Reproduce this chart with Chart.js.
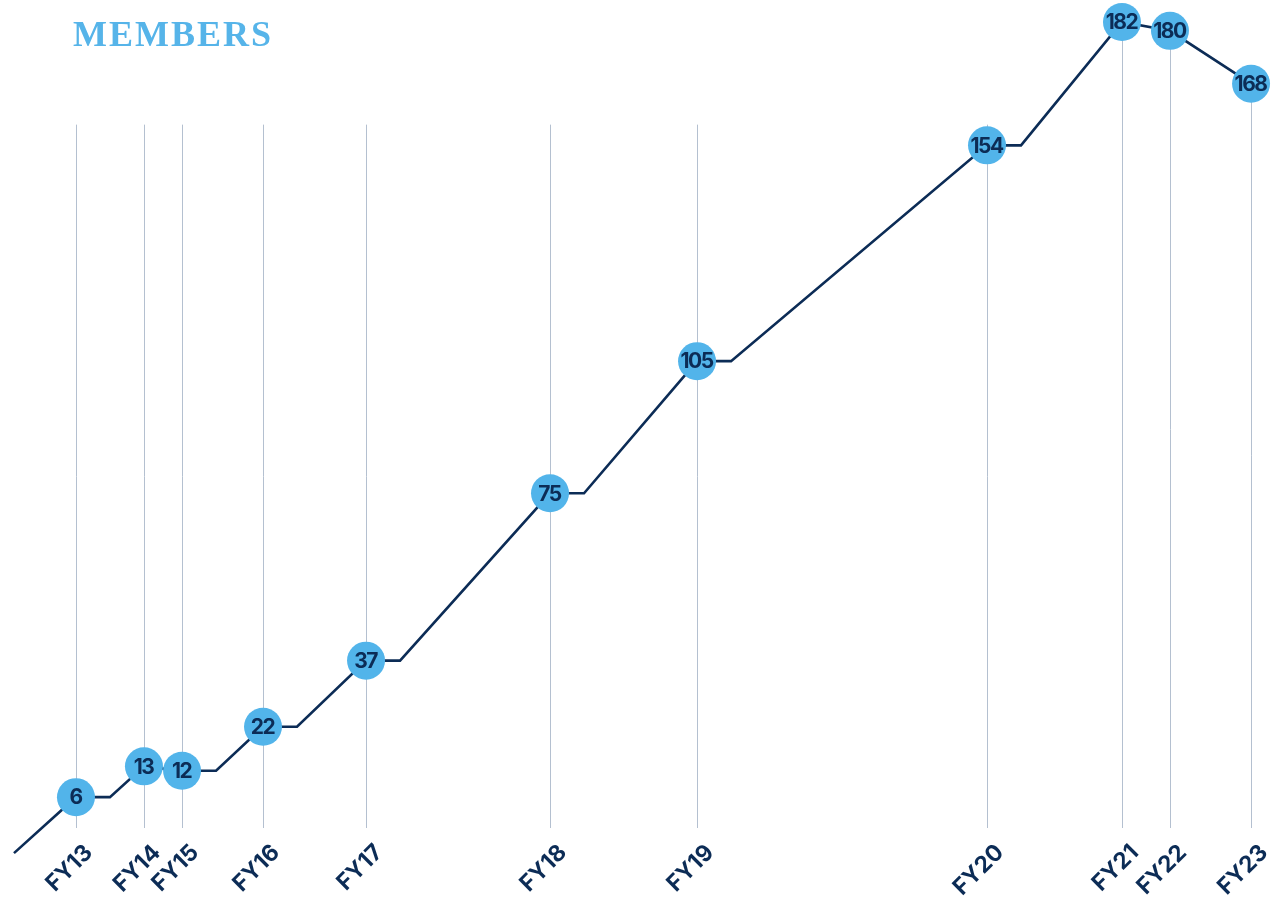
<!DOCTYPE html>
<html>
<head>
<meta charset="utf-8">
<script src="https://cdn.jsdelivr.net/npm/chart.js"></script>
<style>
  body { margin: 0; background: #fff; }
  #wrap { position: relative; width: 1283px; height: 898px; }
  #title {
    position: absolute; left: 73px; top: 16px; margin: 0;
    font: bold 36px/36px "Liberation Serif", serif;
    letter-spacing: 2px; color: #56b4e9;
  }
</style>
</head>
<body>
<div id="wrap">
  <canvas id="myChart" width="1283" height="898"></canvas>
  <h1 id="title">MEMBERS</h1>
</div>
<script>
// fiscal years and member counts
const years = ["FY13", "FY14", "FY15", "FY16", "FY17", "FY18", "FY19", "FY20", "FY21", "FY22", "FY23"];
const members = [6, 13, 12, 22, 37, 75, 105, 154, 182, 180, 168];
// where each year sits along the timeline (0-100)
const positions = [5.92, 11.22, 14.19, 20.5, 28.53, 42.87, 54.33, 76.93, 87.45, 91.19, 97.51];

const navy = "#0c2c56";
const lightBlue = "#52b4ea";
const gridColor = "#b4c0d0";
const stub = 2.65;     // flat run after each rise
const leadRun = 4.83;  // lead-in line at the start
const leadDrop = 12.7;
const gridTop = 158.7;

// line path: flat stub after a point, then a diagonal to the next one
const path = [{ x: positions[0] - leadRun, y: members[0] - leadDrop }];
members.forEach((v, i) => {
  path.push({ x: positions[i], y: v });
  if (i < members.length - 1 && members[i + 1] > v) {
    path.push({ x: positions[i] + stub, y: v });
  }
});

const gridPlugin = {
  id: "fyGrid",
  beforeDatasetsDraw(chart) {
    const { ctx, chartArea } = chart;
    const x = chart.scales.x, y = chart.scales.y;
    ctx.save();
    ctx.strokeStyle = gridColor;
    ctx.lineWidth = 1;
    positions.forEach((p, i) => {
      const px = Math.round(x.getPixelForValue(p)) + 0.5;
      const top = Math.min(y.getPixelForValue(members[i]), y.getPixelForValue(gridTop));
      ctx.beginPath();
      ctx.moveTo(px, top);
      ctx.lineTo(px, chartArea.bottom);
      ctx.stroke();
    });
    ctx.restore();
  },
};

const valueLabels = {
  id: "valueLabels",
  afterDatasetsDraw(chart) {
    const { ctx } = chart;
    const meta = chart.getDatasetMeta(0);
    ctx.save();
    ctx.font = "bold 21px Inter";
    ctx.letterSpacing = "-1.5px";
    ctx.fillStyle = navy;
    ctx.textAlign = "center";
    ctx.textBaseline = "middle";
    meta.data.forEach((pt, i) => {
      ctx.fillText(String(members[i]), pt.x - 0.5, pt.y + 1);
    });
    ctx.restore();
  },
};

let ctx = document.getElementById("myChart");
new Chart(ctx, {
  type: "line",
  data: {
    datasets: [
      {
        label: "Members",
        data: members.map((v, i) => ({ x: positions[i], y: v })),
        showLine: false,
        pointRadius: 19,
        pointBackgroundColor: lightBlue,
        pointBorderWidth: 0,
      },
      {
        label: "path",
        data: path,
        borderColor: navy,
        borderWidth: 2.6,
        pointRadius: 0,
        tension: 0,
        clip: false,
      },
    ],
  },
  options: {
    responsive: false,
    animation: false,
    events: [],
    layout: { padding: 0, autoPadding: false },
    plugins: {
      legend: { display: false },
      tooltip: { enabled: false },
      title: { display: false },
    },
    scales: {
      x: {
        type: "linear",
        min: 0,
        max: 100,
        grid: { display: false, drawTicks: false },
        border: { display: false },
        afterBuildTicks: (axis) => {
          axis.ticks = positions.map((p) => ({ value: p }));
        },
        afterFit: (s) => {
          s.height = 70;
          s.paddingLeft = 0;
          s.paddingRight = 0;
        },
        ticks: {
          autoSkip: false,
          minRotation: 45,
          maxRotation: 45,
          labelOffset: 13,
          padding: 11,
          color: navy,
          font: { family: "Inter", size: 23, weight: "bold" },
          callback: (value, index) => years[index],
        },
      },
      y: {
        display: false,
        min: -1,
        max: 187,
      },
    },
  },
  plugins: [gridPlugin, valueLabels],
});
</script>
</body>
</html>
